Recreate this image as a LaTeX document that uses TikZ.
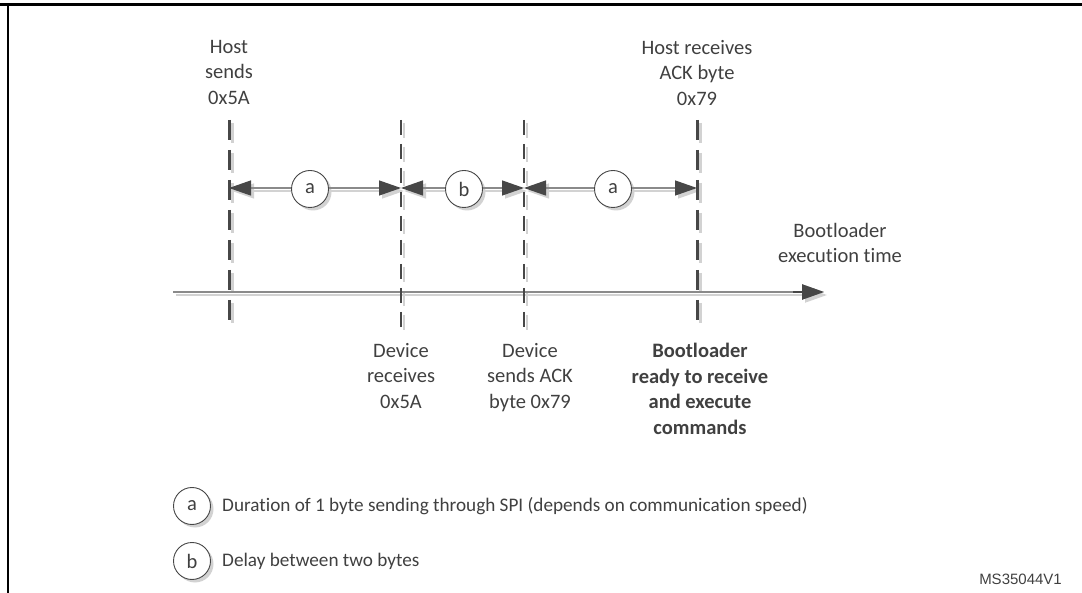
\documentclass[tikz,border=0pt]{standalone}
\usepackage{fontspec}
\setmainfont{Carlito}[Ligatures=NoCommon]
\newfontfamily\arialf{Liberation Sans}
\usetikzlibrary{arrows.meta}
\definecolor{txt}{HTML}{404040}
\definecolor{ln}{HTML}{474747}
\definecolor{shd}{HTML}{D2D2D2}
\definecolor{axl}{HTML}{8A8A8A}
\begin{document}
\begin{tikzpicture}[x=1pt,y=-1pt,
  lbl/.style={font=\fontsize{20.5}{25.5}\selectfont, text=txt, align=center, inner sep=0pt, anchor=north},
  legtxt/.style={font=\fontsize{19.2}{23}\selectfont, text=txt, inner sep=0pt, anchor=west},
  hostln/.style={line width=3pt, dash pattern=on 20pt off 10pt},
  devln/.style={line width=2pt, dash pattern=on 15pt off 9pt},
  durarrow/.style={line width=1.3pt, draw=#1, {Triangle[length=22pt,width=15pt,color=#1,fill=#1]}-{Triangle[length=22pt,width=15pt,color=#1,fill=#1]}},
  durmain/.style={line width=1.3pt, draw=axl, {Triangle[length=22pt,width=15pt,color=ln,fill=ln]}-{Triangle[length=22pt,width=15pt,color=ln,fill=ln]}},
  axarrow/.style={line width=2pt, draw=#1, -{Triangle[length=22pt,width=15pt,color=#1,fill=#1]}},
  circ/.style={circle, draw=ln, fill=white, line width=0.9pt, minimum size=37pt, inner sep=0pt, font=\fontsize{20.5}{24}\selectfont, text=txt},
  shadowc/.style={circle, fill=shd, minimum size=37pt, inner sep=0pt},
  frame/.style={line width=2.5pt, draw=black}
]
\useasboundingbox (0,0) rectangle (1082,593);

% frame
\draw[frame] (0,4.5) -- (1082,4.5);
\draw[frame] (8,4.5) -- (8,593);

% coordinates
\coordinate (H1t) at (229,120); \coordinate (H1b) at (229,330); \coordinate (H1m) at (229,188);
\coordinate (D1t) at (401,120); \coordinate (D1b) at (401,330); \coordinate (D1m) at (401,188);
\coordinate (D2t) at (524,120); \coordinate (D2b) at (524,330); \coordinate (D2m) at (524,188);
\coordinate (H2t) at (697,120); \coordinate (H2b) at (697,330); \coordinate (H2m) at (697,188);
\coordinate (ax0) at (173,292); \coordinate (ax1) at (824,292);

% shadows
\begin{scope}[transform canvas={shift={(3pt,-3pt)}}]
  \draw[hostln, shd] (H1t) -- (H1b);
  \draw[hostln, shd] (H2t) -- (H2b);
  \draw[devln, shd] (D1t) -- (D1b);
  \draw[devln, shd] (D2t) -- (D2b);
  \draw[durarrow=shd] (H1m) -- (D1m);
  \draw[durarrow=shd] (D1m) -- (D2m);
  \draw[durarrow=shd] (D2m) -- (H2m);
  \draw[axarrow=shd] (ax0) -- (ax1);
  \node[shadowc] at (310,189) {};
  \node[shadowc] at (464,189) {};
  \node[shadowc] at (613,189) {};
  \node[shadowc] at (192,506) {};
  \node[shadowc] at (192,561) {};
\end{scope}

% axis
\draw[axarrow=axl] (ax0) -- (ax1);
\draw[line width=2pt, draw=ln, -{Triangle[length=22pt,width=15pt,color=ln,fill=ln]}] ([xshift=620pt]ax0) -- (ax1);

% vertical dashed lines
\draw[hostln, ln] (H1t) -- (H1b);
\draw[hostln, ln] (H2t) -- (H2b);
\draw[devln, ln] (D1t) -- (D1b);
\draw[devln, ln] (D2t) -- (D2b);

% duration arrows
\draw[durmain] (H1m) -- (D1m);
\draw[durmain] (D1m) -- (D2m);
\draw[durmain] (D2m) -- (H2m);

\node[circ] (ca1) at (310,189) {a};
\node[circ] (cb) at (464,189) {b};
\node[circ] (ca2) at (613,189) {a};

% labels
\node[lbl] (hs) at (229,40) {Host\\sends\\0x5A};
\node[lbl] (hr) at (697,40) {Host receives\\ACK byte\\0x79};
\node[lbl] (bt) at (840,223) {Bootloader\\execution time};
\node[lbl] (dr) at (401,343) {Device\\receives\\0x5A};
\node[lbl] (ds) at (530,343) {Device\\sends ACK\\byte 0x79};
\node[lbl, font=\fontsize{20.5}{25.5}\selectfont\bfseries] (br) at (700,343) {Bootloader\\ready to receive\\and execute\\commands};

% legend
\node[circ] (la) at (192,506) {a};
\node[circ] (lb) at (192,561) {b};
\node[legtxt] (lat) at (222,506) {Duration of 1 byte sending through SPI (depends on communication speed)};
\node[legtxt] (lbt) at (222,561) {Delay between two bytes};

\node[font=\arialf\fontsize{15}{18}\selectfont, text=txt, inner sep=0pt, anchor=base east] (ms) at (1062,584) {MS35044V1};
\end{tikzpicture}
\end{document}
